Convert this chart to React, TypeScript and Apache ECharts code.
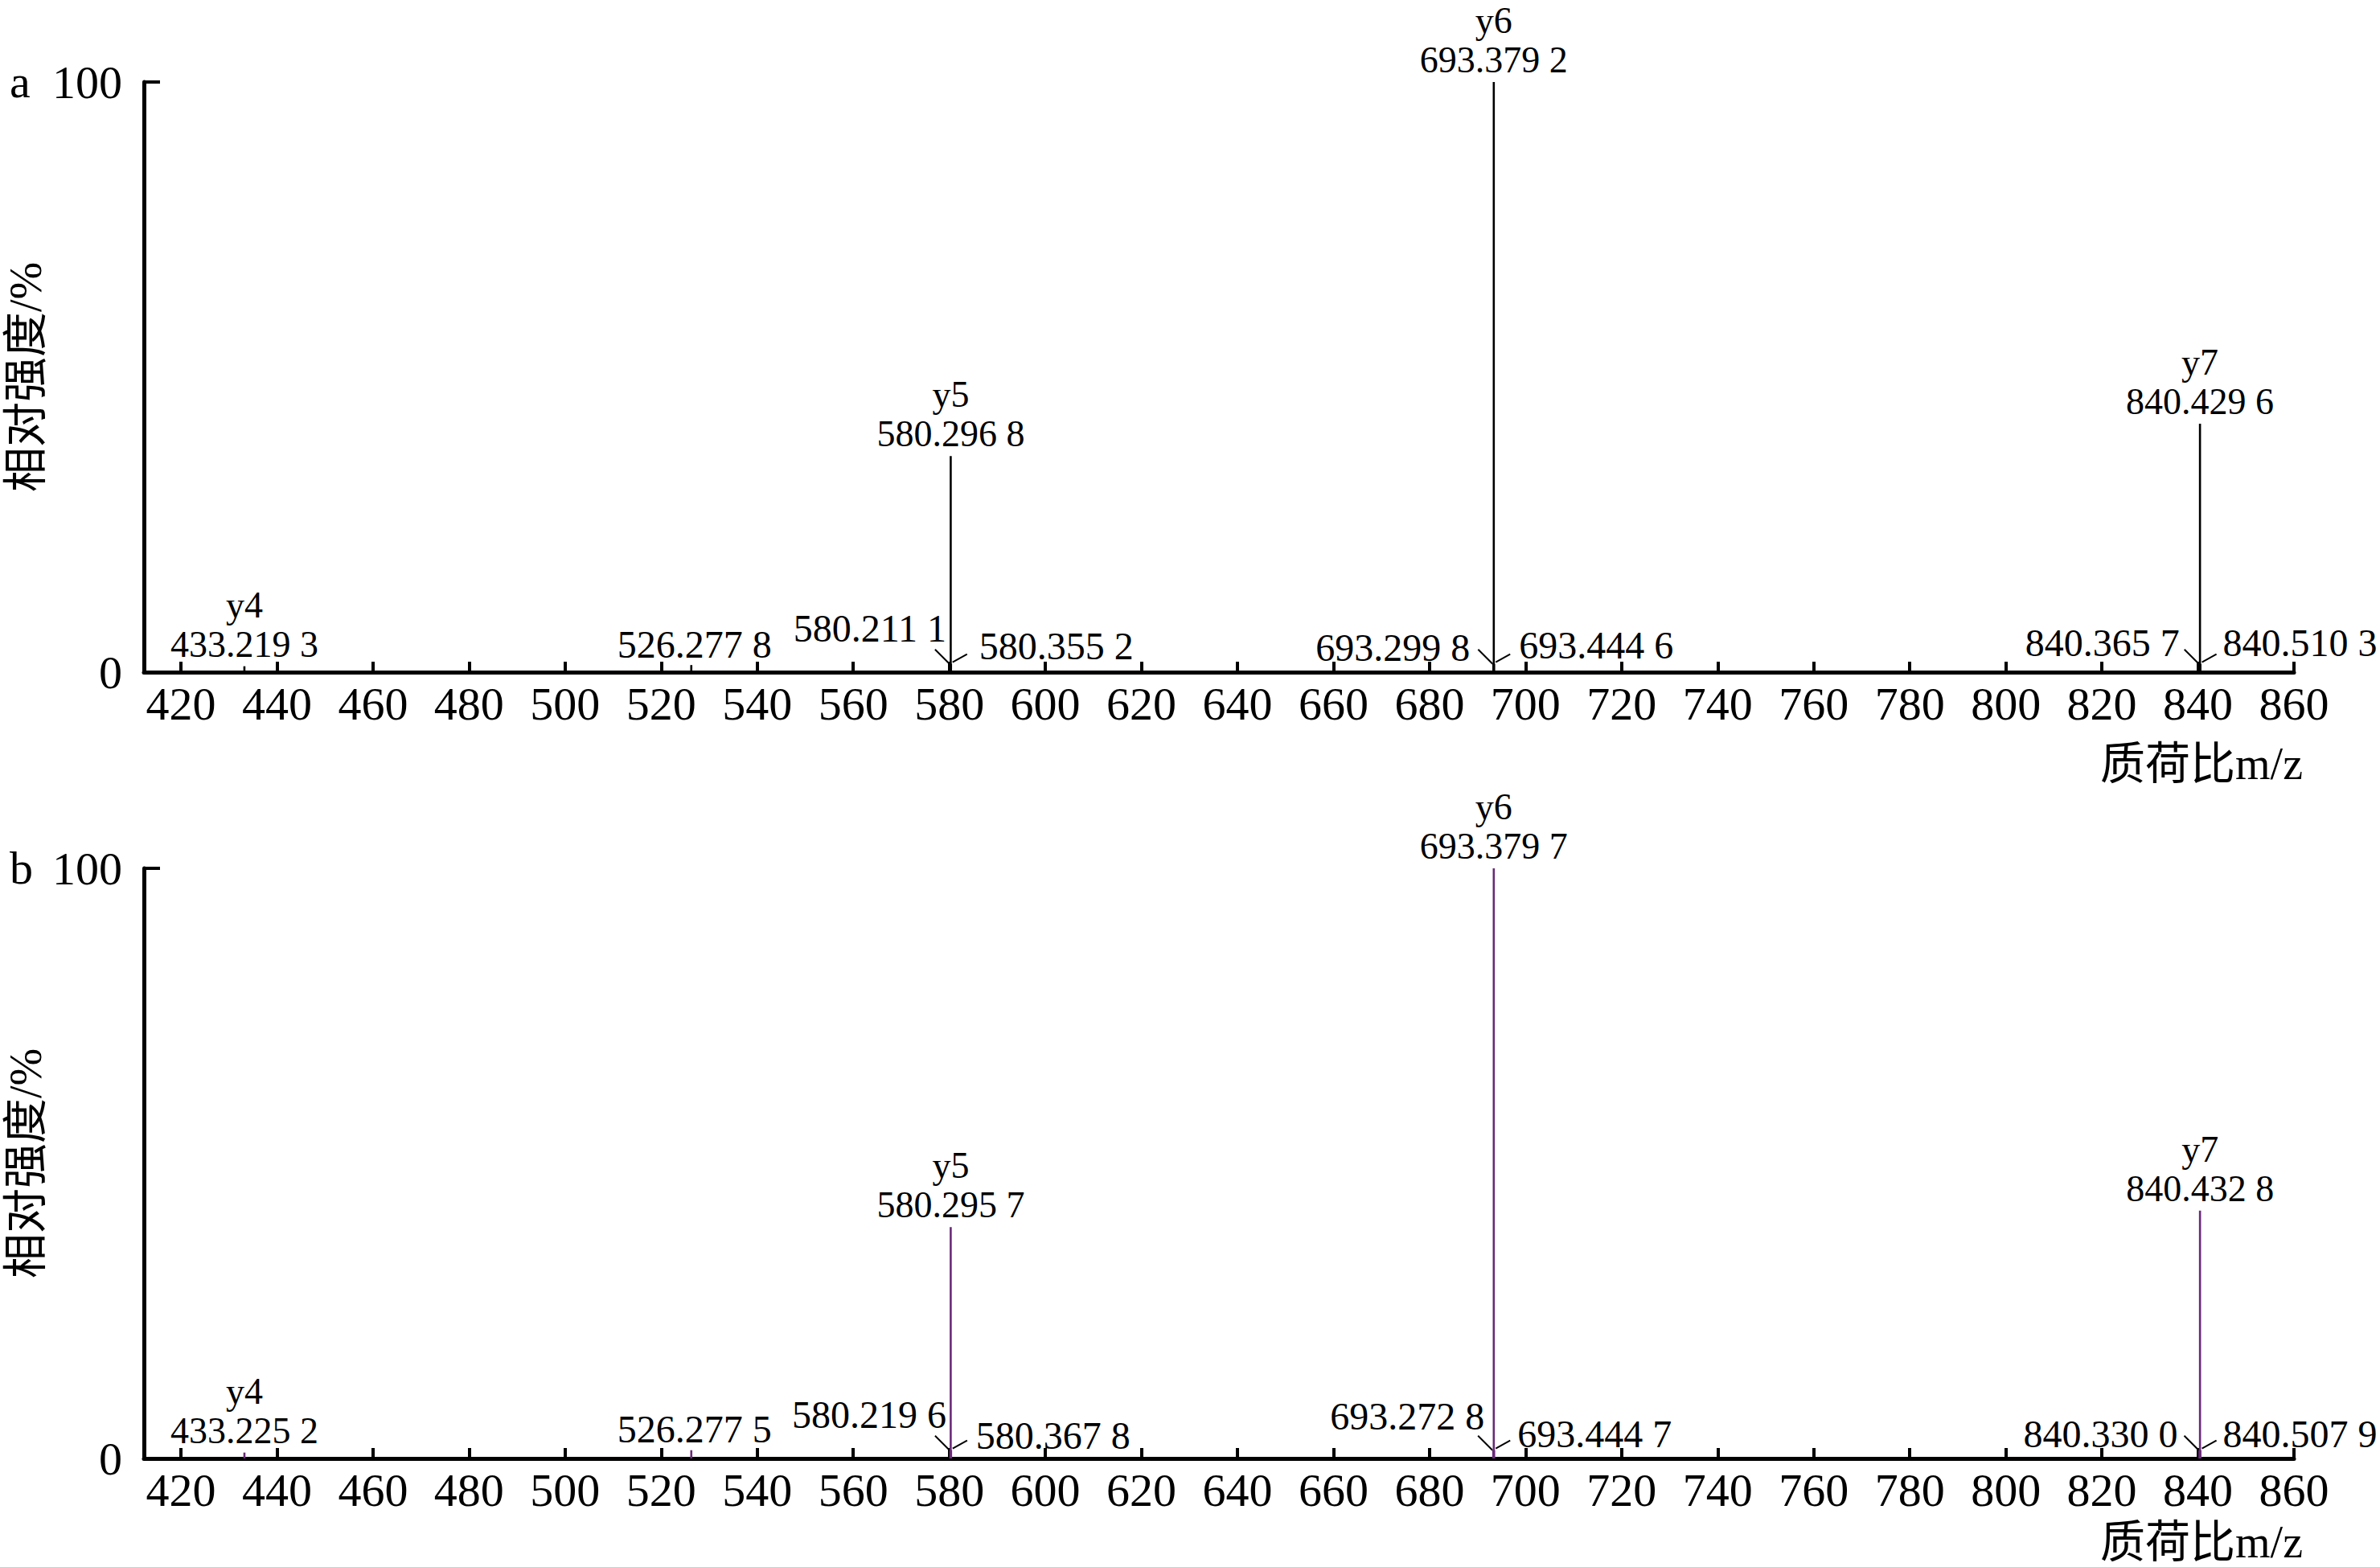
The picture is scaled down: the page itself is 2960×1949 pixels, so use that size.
import React, { useEffect, useRef } from 'react';
import * as echarts from 'echarts';

// ---------- data ----------
const xTicks = [420, 440, 460, 480, 500, 520, 540, 560, 580, 600, 620, 640, 660, 680, 700, 720, 740, 760, 780, 800, 820, 840, 860];
const yTicks = [0, 100];

const mzA = [433.2193, 526.2778, 580.2111, 580.2968, 580.3552, 693.2998, 693.3792, 693.4446, 840.3657, 840.4296, 840.5103];
const intA = [1.0, 1.2, 1.4, 36.6, 1.4, 1.4, 100, 1.4, 1.4, 42.1, 1.4];
const ionA = ['y4', '', '', 'y5', '', '', 'y6', '', '', 'y7', ''];

const mzB = [433.2252, 526.2775, 580.2196, 580.2957, 580.3678, 693.2728, 693.3797, 693.4447, 840.3300, 840.4328, 840.5079];
const intB = [1.0, 1.4, 1.4, 39.2, 1.4, 1.4, 100, 1.4, 1.4, 42.0, 1.4];
const ionB = ['y4', '', '', 'y5', '', '', 'y6', '', '', 'y7', ''];

const panelLetters = ['a', 'b'];
const yTitle = '相对强度/%';
const xTitle = '质荷比m/z';

// ---------- label styling (placement / pixel offsets) ----------
const placeA = ['top', 'above', 'left', 'top', 'right', 'left', 'top', 'right', 'left', 'top', 'right'];
const offA = [[0, 0], [4, 0], [-5, -44], [0, 0], [35, -22], [-29, -20], [0, 0], [31, -23], [-25, -26], [0, 0], [28, -26]];
const placeB = ['top', 'above', 'left', 'top', 'right', 'left', 'top', 'right', 'left', 'top', 'right'];
const offB = [[0, 0], [4, 0], [-5, -44], [0, 0], [31, -18], [-11, -42], [0, 0], [29, -20], [-27, -20], [0, 0], [28, -20]];

const SERIF = "'Liberation Serif', 'Noto Sans CJK SC', serif";
const CJK = "'Liberation Serif', 'Noto Sans CJK SC', serif";
const colorA = '#000000';
const colorB = '#6a2a78';
const ANN_SIZE = 48;

function fmt(m: number): string {
  const s = m.toFixed(4);
  return s.slice(0, s.length - 1) + ' ' + s.slice(s.length - 1);
}

function makeRender(mz: number[], ion: string[], place: string[], off: number[][], color: string) {
  return (params: any, api: any) => {
    const i = params.dataIndex;
    const m = api.value(0);
    const v = api.value(1);
    const base = api.coord([m, 0]);
    const top = api.coord([m, v]);
    const children: any[] = [
      {
        type: 'line',
        shape: { x1: base[0], y1: base[1], x2: top[0], y2: top[1] },
        style: { stroke: color, lineWidth: 2.6 },
      },
    ];
    const txt = fmt(mz[i]);
    const ts = { fill: '#000', fontSize: ANN_SIZE, fontFamily: SERIF };
    const p = place[i];
    if (p === 'top') {
      children.push({
        type: 'text', x: top[0], y: top[1] - 3,
        style: { ...ts, fontSize: 46, text: ion[i] + '\n' + txt, lineHeight: 49, align: 'center', verticalAlign: 'bottom' },
      });
    } else if (p === 'above') {
      children.push({
        type: 'text', x: top[0] + off[i][0], y: top[1] - 26,
        style: { ...ts, text: txt, align: 'center', verticalAlign: 'middle' },
      });
    } else if (p === 'left') {
      children.push({
        type: 'line',
        shape: { x1: top[0] - 19, y1: top[1] - 18, x2: top[0] - 1, y2: top[1] },
        style: { stroke: '#000', lineWidth: 2 },
      });
      children.push({
        type: 'text', x: top[0] + off[i][0], y: top[1] + off[i][1],
        style: { ...ts, text: txt, align: 'right', verticalAlign: 'middle' },
      });
    } else if (p === 'right') {
      children.push({
        type: 'line',
        shape: { x1: top[0] + 2, y1: top[1] - 2, x2: top[0] + 20, y2: top[1] - 12 },
        style: { stroke: '#000', lineWidth: 2 },
      });
      children.push({
        type: 'text', x: top[0] + off[i][0], y: top[1] + off[i][1],
        style: { ...ts, text: txt, align: 'left', verticalAlign: 'middle' },
      });
    }
    return { type: 'group', children };
  };
}

const GRID_LEFT = 179;
const GRID_RIGHT = 107;
const GRID_H = 734;
const GRID_TOPS = [102, 1080];

function xAxisCfg(gi: number) {
  return {
    type: 'value',
    gridIndex: gi,
    min: 412.3,
    max: 860,
    axisLine: { show: true, onZero: false, lineStyle: { color: '#000', width: 5 } },
    axisTick: { show: true, inside: true, length: 13, lineStyle: { color: '#000', width: 4 }, customValues: xTicks },
    axisLabel: { show: true, customValues: xTicks, fontSize: 58, fontFamily: SERIF, color: '#000', margin: 10 },
    splitLine: { show: false },
  };
}

function yAxisCfg(gi: number) {
  return {
    type: 'value',
    gridIndex: gi,
    min: yTicks[0],
    max: yTicks[1],
    interval: yTicks[1] - yTicks[0],
    axisLine: { show: true, lineStyle: { color: '#000', width: 5 } },
    axisTick: { show: true, inside: true, length: 20, lineStyle: { color: '#000', width: 4 } },
    axisLabel: { show: true, fontSize: 58, fontFamily: SERIF, color: '#000', margin: 27 },
    splitLine: { show: false },
  };
}

export default function App() {
  const ref = useRef<HTMLDivElement>(null);
  useEffect(() => {
    if (!ref.current) return;
    const chart = echarts.init(ref.current, null, { renderer: 'svg' });
    const graphics: any[] = [];
    GRID_TOPS.forEach((gt, k) => {
      graphics.push({
        type: 'text', left: 12, top: gt - 30,
        style: { text: panelLetters[k], fontSize: 58, fontFamily: SERIF, fill: '#000' },
      });
      graphics.push({
        type: 'text', x: 32, y: gt + GRID_H / 2, rotation: Math.PI / 2,
        style: { text: yTitle, fontSize: 56, fontFamily: CJK, fill: '#000', align: 'center', verticalAlign: 'middle' },
      });
      graphics.push({
        type: 'text', x: 2864, y: gt + GRID_H + (k === 0 ? 114 : 104),
        style: { text: xTitle, fontSize: 56, fontFamily: CJK, fill: '#000', align: 'right', verticalAlign: 'middle' },
      });
    });
    chart.setOption({
      animation: false,
      backgroundColor: '#ffffff',
      grid: GRID_TOPS.map((t) => ({ left: GRID_LEFT, right: GRID_RIGHT, top: t, height: GRID_H, containLabel: false })),
      xAxis: [xAxisCfg(0), xAxisCfg(1)],
      yAxis: [yAxisCfg(0), yAxisCfg(1)],
      graphic: graphics,
      series: [
        {
          type: 'custom',
          xAxisIndex: 0,
          yAxisIndex: 0,
          silent: true,
          clip: false,
          data: mzA.map((m, i) => [m, intA[i]]),
          renderItem: makeRender(mzA, ionA, placeA, offA, colorA),
        },
        {
          type: 'custom',
          xAxisIndex: 1,
          yAxisIndex: 1,
          silent: true,
          clip: false,
          data: mzB.map((m, i) => [m, intB[i]]),
          renderItem: makeRender(mzB, ionB, placeB, offB, colorB),
        },
      ],
    });
    return () => chart.dispose();
  }, []);
  return (
    <div
      ref={ref}
      style={{ position: 'absolute', left: 0, top: 0, width: 2960, height: 1949, background: '#fff' }}
    />
  );
}
